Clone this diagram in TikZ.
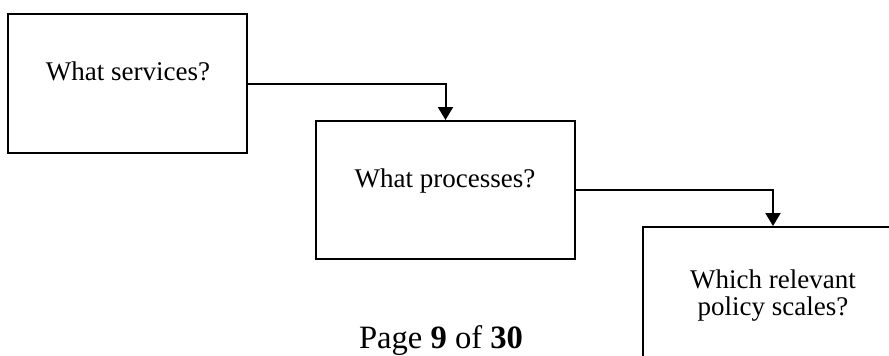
\documentclass[tikz,border=0pt]{standalone}
\usepackage{fontspec}
\setmainfont{Liberation Serif}
\usetikzlibrary{arrows.meta}
\begin{document}
\begin{tikzpicture}[x=1pt,y=-1pt,
  box/.style={draw=black,line width=2pt,rectangle,inner sep=0pt,fill=white},
  lbl/.style={inner sep=0pt,font=\fontsize{27}{27}\selectfont,anchor=base},
  arr/.style={line width=2pt,-{Triangle[width=15pt,length=13pt]}}]
\useasboundingbox (0,0) rectangle (889,356);
\fill[white] (0,0) rectangle (889,356);
\clip (0,0) rectangle (889,356);
\node[box,minimum width=239pt,minimum height=139pt] (b1) at (127.5,83.5) {};
\node[box,minimum width=259pt,minimum height=138pt] (b2) at (445.5,190) {};
\node[box,minimum width=260pt,minimum height=200pt] (b3) at (773,327) {};
\node[lbl] (t1) at (128,80) {What services?};
\node[lbl] (t2) at (445,187) {What processes?};
\node[lbl] (t3a) at (773,288) {Which relevant};
\node[lbl] (t3b) at (773,315) {policy scales?};
\node[inner sep=0pt,anchor=base,font=\fontsize{32.6}{33}\selectfont] (pg) at (441,348) {Page \textbf{9} of \textbf{30}};
\draw[arr] (b1.east) -| (b2.north);
\draw[arr] (b2.east) -| (b3.north);
\end{tikzpicture}
\end{document}
